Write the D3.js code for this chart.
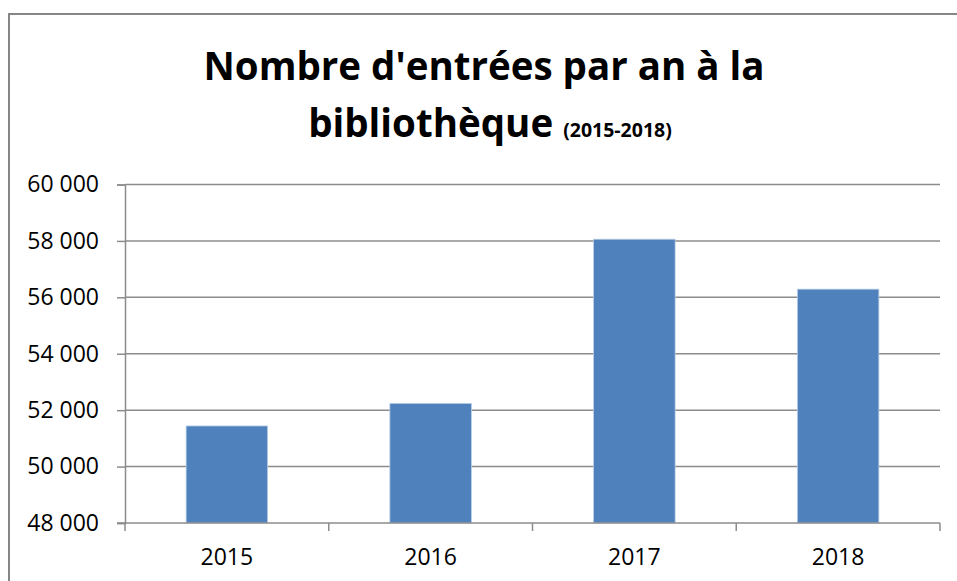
<!DOCTYPE html>
<html>
<head>
<meta charset="utf-8">
<title>Nombre d'entrées par an à la bibliothèque</title>
<script src="https://d3js.org/d3.v7.min.js"></script>
<style>
  body { margin: 0; background: #fff; }
  text { font-family: "Open Sans", "Liberation Sans", sans-serif; fill: #000; }
</style>
</head>
<body>
<div id="chart"></div>
<script>
// data
const years = ["2015", "2016", "2017", "2018"];
const entries = [51440, 52240, 58060, 56290];
const yTicks = [48000, 50000, 52000, 54000, 56000, 58000, 60000];

const width = 957, height = 581;
const plot = { left: 125, right: 940, top: 184.5, bottom: 523 };

const svg = d3.select("#chart").append("svg")
  .attr("width", width)
  .attr("height", height);

// chart frame (runs off the right and bottom of the picture)
svg.append("rect")
  .attr("x", 9).attr("y", 14)
  .attr("width", 980).attr("height", 600)
  .attr("fill", "#fff")
  .attr("stroke", "#868686")
  .attr("stroke-width", 2);

const x = d3.scaleBand()
  .domain(years)
  .range([plot.left, plot.right])
  .paddingInner(0.6)
  .paddingOuter(0.3);

const y = d3.scaleLinear()
  .domain([48000, 60000])
  .range([plot.bottom, plot.top]);

const fmt = d => d3.format(",")(d).replace(",", " ");

// gridlines
svg.append("g")
  .selectAll("line")
  .data(yTicks.slice(1))
  .enter().append("line")
    .attr("x1", plot.left).attr("x2", plot.right)
    .attr("y1", d => y(d)).attr("y2", d => y(d))
    .attr("stroke", "#8c8c8c")
    .attr("stroke-width", 1.5);

// bars
svg.append("g")
  .selectAll("rect")
  .data(entries)
  .enter().append("rect")
    .attr("x", (d, i) => x(years[i]))
    .attr("y", d => y(d))
    .attr("width", x.bandwidth())
    .attr("height", d => y(48000) - y(d))
    .attr("fill", "#4f81bd")
    .attr("stroke", "#b9cde5")
    .attr("stroke-width", 0.8);

// y axis
const yAxis = svg.append("g")
  .attr("transform", `translate(${plot.left},0)`)
  .call(d3.axisLeft(y).tickValues(yTicks).tickFormat(fmt).tickSize(8).tickPadding(18));
yAxis.select(".domain").attr("stroke", "#8c8c8c").attr("stroke-width", 1.5);
yAxis.selectAll(".tick line").attr("stroke", "#8c8c8c").attr("stroke-width", 1.5);
yAxis.selectAll("text")
  .attr("font-size", 23)
  .attr("fill", "#000");

// x axis with ticks on category boundaries
const bounds = d3.range(years.length + 1).map(i => plot.left + i * (plot.right - plot.left) / years.length);
const xAxis = svg.append("g");
xAxis.append("line")
  .attr("x1", plot.left - 8).attr("x2", plot.right)
  .attr("y1", plot.bottom).attr("y2", plot.bottom)
  .attr("stroke", "#8c8c8c").attr("stroke-width", 1.5);
xAxis.selectAll(".bt")
  .data(bounds)
  .enter().append("line")
    .attr("x1", d => d).attr("x2", d => d)
    .attr("y1", plot.bottom).attr("y2", plot.bottom + 8)
    .attr("stroke", "#8c8c8c").attr("stroke-width", 1.5);
xAxis.selectAll("text")
  .data(years)
  .enter().append("text")
    .attr("x", d => x(d) + x.bandwidth() / 2)
    .attr("y", 565)
    .attr("text-anchor", "middle")
    .attr("font-size", 23)
    .text(d => d);

// title
svg.append("text")
  .attr("x", 484).attr("y", 80)
  .attr("text-anchor", "middle")
  .attr("font-size", 38.5)
  .attr("font-weight", "bold")
  .text("Nombre d'entrées par an à la");

const t2 = svg.append("text")
  .attr("x", 490).attr("y", 137)
  .attr("text-anchor", "middle")
  .attr("font-weight", "bold");
t2.append("tspan").attr("font-size", 38.5).text("bibliothèque ");
t2.append("tspan").attr("font-size", 19.5).text("(2015-2018)");
</script>
</body>
</html>
